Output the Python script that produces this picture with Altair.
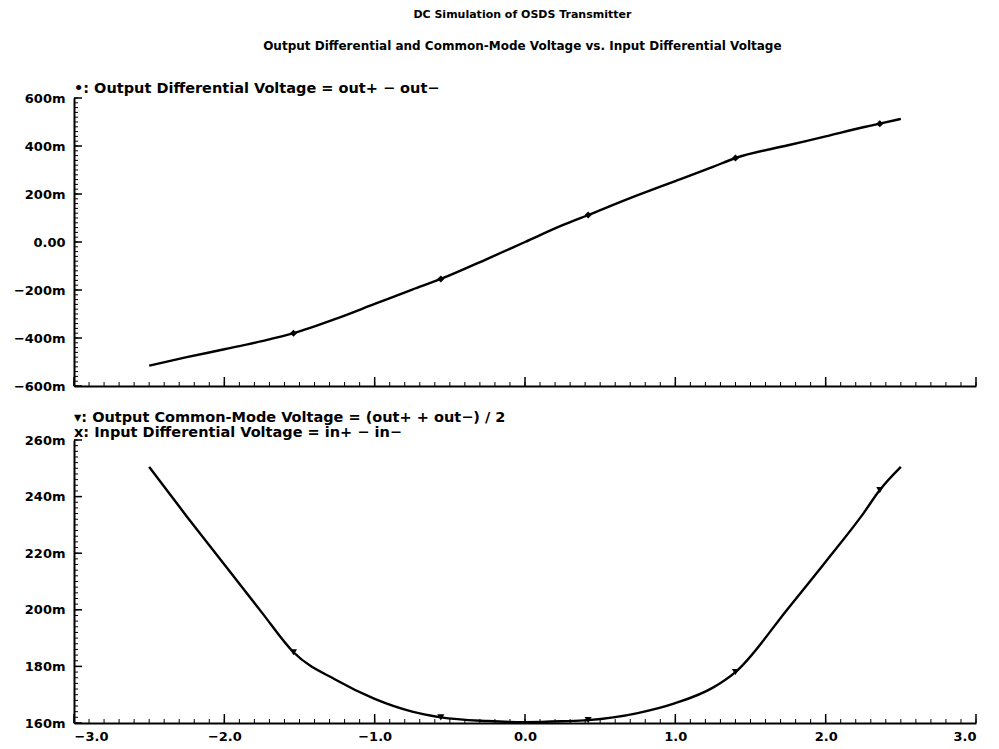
import altair as alt
import pandas as pd
import numpy as np

TITLE = "DC Simulation of OSDS Transmitter"
SUBTITLE = "Output Differential and Common-Mode Voltage vs. Input Differential Voltage"
TOP_LABEL = "•: Output Differential Voltage = out+ − out−"
BOTTOM_LABEL = ["▾: Output Common-Mode Voltage = (out+ + out−) / 2",
                "x: Input Differential Voltage = in+ − in−"]

# input differential voltage (V)
vin = [-2.5, -2.25, -2.0, -1.75, -1.54, -1.25, -1.0, -0.75, -0.56, -0.25, 0.0,
       0.25, 0.42, 0.75, 1.0, 1.25, 1.40, 1.75, 2.0, 2.25, 2.36, 2.5]
# output differential voltage (V)
vdiff = [-0.515, -0.48, -0.447, -0.413, -0.38, -0.318, -0.258, -0.198, -0.154, -0.07, 0.0,
         0.07, 0.1125, 0.195, 0.254, 0.313, 0.35, 0.403, 0.44, 0.478, 0.493, 0.513]
# output common-mode voltage (V)
vcm = [0.2505, 0.233, 0.216, 0.199, 0.185, 0.175, 0.1685, 0.164, 0.162, 0.1607, 0.1603,
       0.1606, 0.161, 0.1635, 0.167, 0.1725, 0.178, 0.2005, 0.217, 0.234, 0.2423, 0.2505]
# x positions of the plotted symbols
marker_x = [-1.54, -0.56, 0.42, 1.40, 2.36]

x_major = [-3, -2, -1, 0, 1, 2, 3]
top_y_major = [-0.6, -0.4, -0.2, 0.0, 0.2, 0.4, 0.6]
bot_y_major = [0.16, 0.18, 0.20, 0.22, 0.24, 0.26]

FONT = "DejaVu Sans"
W, H1, H2 = 902, 288, 283

df = pd.DataFrame({"vin": vin, "vdiff": vdiff, "vcm": vcm})
df["marker"] = df["vin"].isin(marker_x)

x_minor = pd.DataFrame({"t": np.round(np.arange(-3.0, 3.0001, 0.1), 3)})
x_maj = pd.DataFrame({"t": x_major})
ty_minor = pd.DataFrame({"t": np.round(np.arange(-0.6, 0.6001, 0.02), 4)})
ty_maj = pd.DataFrame({"t": top_y_major})
by_minor = pd.DataFrame({"t": np.round(np.arange(0.16, 0.2601, 0.002), 4)})
by_maj = pd.DataFrame({"t": bot_y_major})

xscale = alt.Scale(domain=[-3, 3], nice=False, zero=False)
top_scale = alt.Scale(domain=[-0.6, 0.6], nice=False, zero=False)
bot_scale = alt.Scale(domain=[0.16, 0.26], nice=False, zero=False)

label_style = dict(labelFont=FONT, labelFontWeight="bold", labelFontSize=13,
                   labelColor="black", domainColor="black", domainWidth=2,
                   ticks=False, grid=False, title=None)


def panel(field, yscale, ymaj, ymin_df, ymaj_df, h, label_expr, show_x_labels, shape, title):
    if show_x_labels:
        xaxis = alt.Axis(values=x_major, format=".1f", labelPadding=7, **label_style)
    else:
        xaxis = alt.Axis(values=x_major, labels=False, minExtent=0, maxExtent=0, **label_style)
    yaxis = alt.Axis(values=ymaj, labelExpr=label_expr, labelPadding=9,
                     minExtent=66, maxExtent=66, **label_style)
    base = alt.Chart(df)
    line = base.mark_line(color="black", strokeWidth=2.4, interpolate="monotone").encode(
        x=alt.X("vin:Q", scale=xscale, axis=xaxis),
        y=alt.Y(f"{field}:Q", scale=yscale, axis=yaxis),
    )
    pts = base.transform_filter("datum.marker").mark_point(
        shape=shape, filled=True, size=50, color="black", opacity=1
    ).encode(x=alt.X("vin:Q"), y=alt.Y(f"{field}:Q"))
    ytick_min = alt.Chart(ymin_df).mark_rule(color="black", strokeWidth=1).encode(
        y=alt.Y("t:Q"), x=alt.value(0), x2=alt.value(4))
    ytick_maj = alt.Chart(ymaj_df).mark_rule(color="black", strokeWidth=1.5).encode(
        y=alt.Y("t:Q"), x=alt.value(0), x2=alt.value(8))
    xtick_min = alt.Chart(x_minor).mark_rule(color="black", strokeWidth=1).encode(
        x=alt.X("t:Q"), y=alt.value(h), y2=alt.value(h - 4))
    xtick_maj = alt.Chart(x_maj).mark_rule(color="black", strokeWidth=1.5).encode(
        x=alt.X("t:Q"), y=alt.value(h), y2=alt.value(h - 9))
    return alt.layer(line, ytick_min, ytick_maj, xtick_min, xtick_maj, pts).properties(
        width=W, height=h, title=title)


top = panel("vdiff", top_scale, top_y_major, ty_minor, ty_maj, H1,
            "datum.value == 0 ? '0.00' : format(round(datum.value*1000), 'd') + 'm'",
            False, "diamond",
            alt.TitleParams(TOP_LABEL, anchor="start", frame="group", font=FONT,
                            fontWeight="bold", fontSize=14.5, color="black", offset=-4))
bottom = panel("vcm", bot_scale, bot_y_major, by_minor, by_maj, H2,
               "format(round(datum.value*1000), 'd') + 'm'",
               True, "triangle-down",
               alt.TitleParams(BOTTOM_LABEL, anchor="start", frame="group", font=FONT,
                               fontWeight="bold", fontSize=14.5, lineHeight=15,
                               color="black", offset=-6))

chart = alt.vconcat(top, bottom, spacing=16).properties(
    title=alt.TitleParams(TITLE, subtitle=SUBTITLE, anchor="middle", font=FONT,
                          fontWeight="bold", fontSize=11, color="black",
                          subtitleFont=FONT, subtitleFontWeight="bold",
                          subtitleFontSize=12, subtitleColor="black",
                          subtitlePadding=21, offset=29, dx=30),
    background="white",
    padding=0,
).configure_view(strokeWidth=0)

chart.save("out.html", embed_options={"renderer": "svg", "actions": False})
